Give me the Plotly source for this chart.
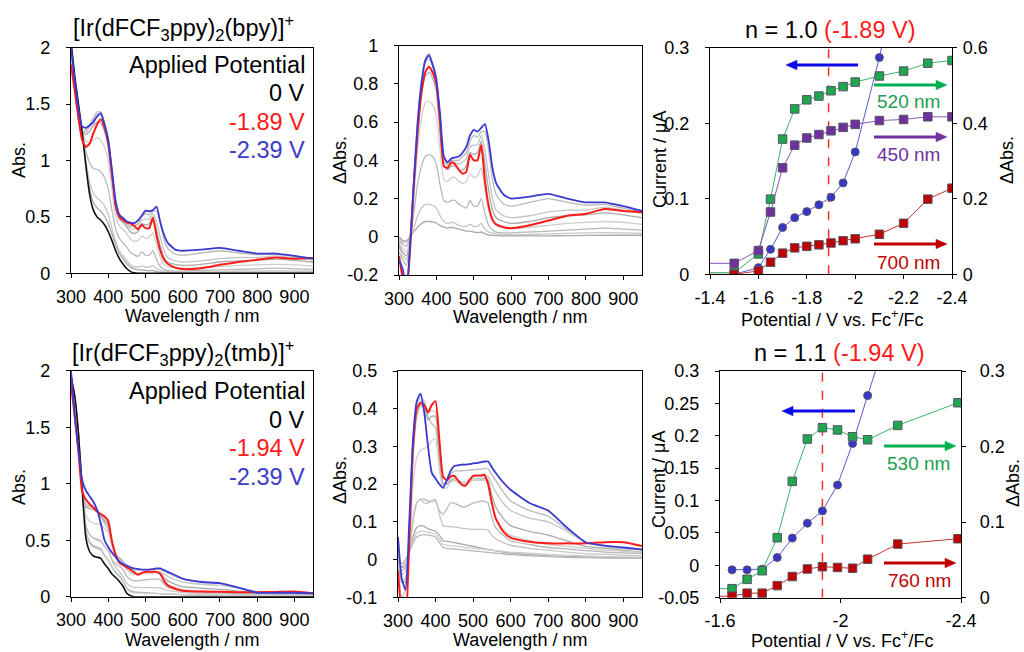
import plotly.graph_objects as go

# ---------------- DATA ----------------
WL = [300, 310, 320, 330, 340, 350, 360, 370, 380, 390, 400, 410, 420, 430, 440, 450, 460, 470,
      480, 490, 500, 510, 520, 530, 540, 550, 560, 580, 600, 650, 700, 750, 800, 850, 900, 950]
WL_TICKS = [300, 400, 500, 600, 700, 800, 900]

# [Ir(dFCF3ppy)2(bpy)]+ absorbance
BPY_ABS_0V = [2.05, 1.75, 1.5, 1.25, 0.95, 0.7, 0.56, 0.5, 0.47, 0.43, 0.37, 0.29, 0.2, 0.13, 0.08, 0.04, 0.015, 0.004,
              0, 0, 0, 0, 0, 0, 0, 0, 0, 0, 0, 0, 0, 0, 0, 0, 0, 0]
BPY_ABS_189 = [1.85, 1.62, 1.38, 1.18, 1.12, 1.15, 1.24, 1.32, 1.365, 1.29, 1.15, 0.88, 0.6, 0.5, 0.47, 0.45, 0.44, 0.42,
               0.39, 0.43, 0.4, 0.4, 0.49, 0.33, 0.2, 0.12, 0.085, 0.05, 0.038, 0.045, 0.075, 0.1, 0.12, 0.14, 0.13, 0.135]
BPY_ABS_239 = [2.0, 1.72, 1.46, 1.3, 1.29, 1.31, 1.34, 1.39, 1.42, 1.32, 1.18, 0.92, 0.64, 0.52, 0.49, 0.46, 0.45, 0.445,
               0.47, 0.51, 0.555, 0.55, 0.56, 0.59, 0.45, 0.34, 0.27, 0.21, 0.2, 0.21, 0.225, 0.2, 0.175, 0.175, 0.155, 0.13]
BPY_ABS_STEPS = [
    [1.97, 1.63, 1.35, 1.25, 1.27, 1.32, 1.38, 1.43, 1.43, 1.34, 1.21, 0.89, 0.61, 0.51, 0.48, 0.44, 0.415, 0.424,
     0.44, 0.5, 0.53, 0.52, 0.55, 0.55, 0.45, 0.3, 0.22, 0.17, 0.16, 0.18, 0.2, 0.18, 0.165, 0.17, 0.15, 0.13],
    [2.0, 1.65, 1.38, 1.25, 1.25, 1.3, 1.36, 1.41, 1.4, 1.32, 1.19, 0.87, 0.6, 0.5, 0.47, 0.43, 0.395, 0.394,
     0.41, 0.47, 0.48, 0.48, 0.53, 0.45, 0.32, 0.2, 0.14, 0.11, 0.1, 0.11, 0.13, 0.14, 0.14, 0.155, 0.14, 0.12],
    [2.01, 1.67, 1.4, 1.25, 1.23, 1.26, 1.31, 1.34, 1.33, 1.26, 1.13, 0.83, 0.57, 0.48, 0.45, 0.41, 0.365, 0.354,
     0.37, 0.44, 0.43, 0.44, 0.5, 0.38, 0.24, 0.14, 0.1, 0.08, 0.07, 0.08, 0.1, 0.11, 0.115, 0.125, 0.115, 0.1],
    [2.02, 1.69, 1.42, 1.25, 1.17, 1.16, 1.18, 1.2, 1.18, 1.12, 1.0, 0.74, 0.5, 0.42, 0.39, 0.35, 0.305, 0.284,
     0.29, 0.33, 0.31, 0.32, 0.36, 0.25, 0.14, 0.08, 0.06, 0.05, 0.045, 0.05, 0.06, 0.07, 0.075, 0.08, 0.075, 0.065],
    [2.03, 1.71, 1.45, 1.25, 1.08, 0.98, 0.93, 0.92, 0.9, 0.85, 0.75, 0.56, 0.39, 0.31, 0.27, 0.23, 0.185, 0.164,
     0.15, 0.19, 0.16, 0.16, 0.2, 0.12, 0.06, 0.035, 0.025, 0.02, 0.02, 0.025, 0.03, 0.035, 0.04, 0.045, 0.04, 0.035],
    [2.04, 1.72, 1.47, 1.25, 1.0, 0.81, 0.71, 0.67, 0.64, 0.595, 0.52, 0.4, 0.28, 0.2, 0.155, 0.11, 0.075, 0.059,
     0.055, 0.065, 0.055, 0.055, 0.07, 0.04, 0.025, 0.02, 0.015, 0.012, 0.01, 0.012, 0.015, 0.018, 0.02, 0.022, 0.02, 0.018],
    [2.05, 1.73, 1.48, 1.25, 0.98, 0.75, 0.63, 0.58, 0.55, 0.508, 0.442, 0.35, 0.25, 0.175, 0.13, 0.085, 0.055, 0.039,
     0.03, 0.03, 0.025, 0.022, 0.025, 0.015, 0.01, 0.008, 0.006, 0.005, 0.005, 0.005, 0.005, 0.006, 0.007, 0.008, 0.008, 0.008],
]

# [Ir(dFCF3ppy)2(bpy)]+ difference spectra
BPY_D_189 = [-0.1, -0.22, -0.3, -0.05, 0.28, 0.55, 0.75, 0.86, 0.89, 0.86, 0.8, 0.6, 0.37, 0.36, 0.39, 0.38, 0.35, 0.33,
             0.34, 0.43, 0.4, 0.4, 0.48, 0.29, 0.16, 0.09, 0.065, 0.05, 0.045, 0.06, 0.085, 0.11, 0.12, 0.145, 0.135, 0.13]
BPY_D_239 = [-0.12, -0.17, -0.28, -0.04, 0.3, 0.6, 0.8, 0.92, 0.95, 0.9, 0.82, 0.64, 0.42, 0.39, 0.41, 0.415, 0.42, 0.44,
             0.47, 0.53, 0.56, 0.55, 0.57, 0.59, 0.5, 0.36, 0.28, 0.22, 0.2, 0.21, 0.225, 0.2, 0.18, 0.18, 0.16, 0.135]
BPY_D_STEPS = [
    [-0.08, -0.12, -0.15, 0.0, 0.32, 0.62, 0.82, 0.93, 0.96, 0.91, 0.84, 0.6, 0.41, 0.38, 0.4, 0.4, 0.4, 0.42,
     0.44, 0.5, 0.53, 0.52, 0.55, 0.55, 0.45, 0.3, 0.22, 0.17, 0.16, 0.18, 0.2, 0.18, 0.165, 0.17, 0.15, 0.13],
    [-0.05, -0.1, -0.12, 0.0, 0.3, 0.6, 0.8, 0.91, 0.93, 0.89, 0.82, 0.58, 0.4, 0.37, 0.39, 0.39, 0.38, 0.39,
     0.41, 0.47, 0.48, 0.48, 0.53, 0.45, 0.32, 0.2, 0.14, 0.11, 0.1, 0.11, 0.13, 0.14, 0.14, 0.155, 0.14, 0.12],
    [-0.04, -0.08, -0.1, 0.0, 0.28, 0.56, 0.75, 0.84, 0.86, 0.83, 0.76, 0.54, 0.37, 0.35, 0.37, 0.37, 0.35, 0.35,
     0.37, 0.44, 0.43, 0.44, 0.5, 0.38, 0.24, 0.14, 0.1, 0.08, 0.07, 0.08, 0.1, 0.11, 0.115, 0.125, 0.115, 0.1],
    [-0.03, -0.06, -0.08, 0.0, 0.22, 0.46, 0.62, 0.7, 0.71, 0.69, 0.63, 0.45, 0.3, 0.29, 0.31, 0.31, 0.29, 0.28,
     0.29, 0.33, 0.31, 0.32, 0.36, 0.25, 0.14, 0.08, 0.06, 0.05, 0.045, 0.05, 0.06, 0.07, 0.075, 0.08, 0.075, 0.065],
    [-0.02, -0.04, -0.05, 0.0, 0.13, 0.28, 0.37, 0.42, 0.43, 0.42, 0.38, 0.27, 0.19, 0.18, 0.19, 0.19, 0.17, 0.16,
     0.15, 0.19, 0.16, 0.16, 0.2, 0.12, 0.06, 0.035, 0.025, 0.02, 0.02, 0.025, 0.03, 0.035, 0.04, 0.045, 0.04, 0.035],
    [-0.01, -0.03, -0.03, 0.0, 0.05, 0.11, 0.15, 0.17, 0.17, 0.165, 0.15, 0.11, 0.08, 0.07, 0.075, 0.07, 0.06, 0.055,
     0.055, 0.065, 0.055, 0.055, 0.07, 0.04, 0.025, 0.02, 0.015, 0.012, 0.01, 0.012, 0.015, 0.018, 0.02, 0.022, 0.02, 0.018],
    [0.0, -0.02, -0.02, 0.0, 0.03, 0.05, 0.07, 0.08, 0.08, 0.078, 0.072, 0.06, 0.05, 0.045, 0.05, 0.045, 0.04, 0.035,
     0.03, 0.03, 0.025, 0.022, 0.025, 0.015, 0.01, 0.008, 0.006, 0.005, 0.005, 0.005, 0.005, 0.006, 0.007, 0.008, 0.008, 0.008],
]

# [Ir(dFCF3ppy)2(tmb)]+ absorbance
TMB_ABS_0V = [1.95, 1.78, 1.45, 0.95, 0.52, 0.4, 0.36, 0.35, 0.34, 0.29, 0.25, 0.2, 0.17, 0.135, 0.09, 0.03, 0.008,
              0, 0, 0, 0, 0, 0, 0, 0, 0, 0, 0, 0, 0, 0, 0, 0, 0, 0, 0]
TMB_ABS_194 = [1.88, 1.6, 1.28, 0.93, 0.86, 0.82, 0.79, 0.755, 0.73, 0.71, 0.67, 0.49, 0.37, 0.3, 0.28, 0.26, 0.24, 0.215,
               0.195, 0.21, 0.22, 0.22, 0.22, 0.22, 0.2, 0.14, 0.1, 0.07, 0.053, 0.045, 0.044, 0.04, 0.04, 0.042, 0.045, 0.03]
TMB_ABS_239 = [2.0, 1.6, 1.3, 1.03, 0.94, 0.89, 0.84, 0.77, 0.65, 0.5, 0.44, 0.39, 0.35, 0.31, 0.29, 0.275, 0.26, 0.25,
               0.245, 0.24, 0.24, 0.24, 0.245, 0.25, 0.25, 0.235, 0.22, 0.19, 0.16, 0.13, 0.12, 0.08, 0.035, 0.035, 0.035, 0.03]
TMB_ABS_STEPS = [
    [1.98, 1.72, 1.39, 1.0, 0.8, 0.8, 0.78, 0.76, 0.72, 0.65, 0.6, 0.47, 0.37, 0.345, 0.315, 0.265, 0.243, 0.235,
     0.236, 0.237, 0.238, 0.239, 0.24, 0.242, 0.24, 0.225, 0.21, 0.18, 0.155, 0.13, 0.115, 0.08, 0.045, 0.036, 0.03, 0.026],
    [1.95, 1.68, 1.37, 0.98, 0.82, 0.81, 0.79, 0.77, 0.73, 0.685, 0.64, 0.49, 0.37, 0.335, 0.3, 0.245, 0.218, 0.205,
     0.205, 0.21, 0.215, 0.215, 0.218, 0.22, 0.22, 0.2, 0.18, 0.15, 0.13, 0.11, 0.1, 0.075, 0.045, 0.035, 0.03, 0.025],
    [1.97, 1.72, 1.4, 0.98, 0.79, 0.78, 0.77, 0.75, 0.71, 0.67, 0.63, 0.48, 0.37, 0.335, 0.3, 0.24, 0.213, 0.2,
     0.2, 0.205, 0.21, 0.21, 0.212, 0.215, 0.21, 0.17, 0.14, 0.11, 0.09, 0.075, 0.065, 0.05, 0.035, 0.03, 0.025, 0.02],
    [1.95, 1.74, 1.42, 0.98, 0.72, 0.67, 0.65, 0.645, 0.64, 0.605, 0.57, 0.44, 0.36, 0.325, 0.295, 0.24, 0.213, 0.2,
     0.2, 0.205, 0.21, 0.21, 0.21, 0.21, 0.2, 0.15, 0.11, 0.08, 0.065, 0.05, 0.04, 0.035, 0.03, 0.025, 0.022, 0.02],
    [1.95, 1.75, 1.43, 0.97, 0.63, 0.55, 0.52, 0.51, 0.495, 0.445, 0.405, 0.33, 0.29, 0.27, 0.24, 0.18, 0.153, 0.14,
     0.14, 0.145, 0.15, 0.152, 0.155, 0.155, 0.15, 0.11, 0.085, 0.065, 0.05, 0.04, 0.032, 0.028, 0.024, 0.02, 0.018, 0.016],
    [1.95, 1.76, 1.43, 0.97, 0.62, 0.55, 0.52, 0.5, 0.49, 0.445, 0.41, 0.32, 0.26, 0.223, 0.177, 0.116, 0.093, 0.083,
     0.082, 0.081, 0.08, 0.08, 0.08, 0.08, 0.078, 0.065, 0.055, 0.045, 0.038, 0.03, 0.025, 0.02, 0.016, 0.014, 0.012, 0.01],
    [1.95, 1.76, 1.44, 0.97, 0.58, 0.485, 0.45, 0.438, 0.422, 0.368, 0.325, 0.265, 0.22, 0.183, 0.137, 0.075, 0.051, 0.041,
     0.039, 0.037, 0.035, 0.033, 0.031, 0.029, 0.027, 0.025, 0.023, 0.02, 0.017, 0.013, 0.01, 0.008, 0.007, 0.006, 0.005, 0.005],
    [1.95, 1.77, 1.44, 0.97, 0.57, 0.47, 0.435, 0.425, 0.412, 0.36, 0.318, 0.255, 0.21, 0.173, 0.127, 0.066, 0.043, 0.034,
     0.032, 0.031, 0.03, 0.029, 0.028, 0.027, 0.026, 0.025, 0.024, 0.022, 0.02, 0.017, 0.014, 0.012, 0.01, 0.008, 0.007, 0.006],
]

# [Ir(dFCF3ppy)2(tmb)]+ difference spectra
TMB_D_194 = [-0.03, -0.14, -0.16, 0.05, 0.3, 0.4, 0.415, 0.41, 0.39, 0.41, 0.42, 0.32, 0.22, 0.21, 0.22, 0.222, 0.21, 0.198,
             0.196, 0.21, 0.222, 0.223, 0.223, 0.225, 0.2, 0.15, 0.11, 0.075, 0.058, 0.047, 0.043, 0.043, 0.043, 0.046, 0.046, 0.036]
TMB_D_239 = [0.06, -0.05, -0.08, 0.1, 0.32, 0.42, 0.44, 0.39, 0.3, 0.23, 0.215, 0.2, 0.19, 0.21, 0.235, 0.248, 0.25, 0.252,
             0.252, 0.253, 0.255, 0.256, 0.258, 0.26, 0.26, 0.245, 0.23, 0.205, 0.185, 0.15, 0.13, 0.085, 0.046, 0.037, 0.032, 0.027]
TMB_D_STEPS = [
    [0.03, -0.06, -0.06, 0.05, 0.28, 0.4, 0.42, 0.41, 0.38, 0.36, 0.35, 0.27, 0.2, 0.21, 0.225, 0.235, 0.235, 0.235,
     0.236, 0.237, 0.238, 0.239, 0.24, 0.242, 0.24, 0.225, 0.21, 0.18, 0.155, 0.13, 0.115, 0.08, 0.045, 0.036, 0.03, 0.026],
    [0.0, -0.1, -0.08, 0.03, 0.3, 0.41, 0.43, 0.42, 0.39, 0.395, 0.39, 0.29, 0.2, 0.2, 0.21, 0.215, 0.21, 0.205,
     0.205, 0.21, 0.215, 0.215, 0.218, 0.22, 0.22, 0.2, 0.18, 0.15, 0.13, 0.11, 0.1, 0.075, 0.045, 0.035, 0.03, 0.025],
    [0.02, -0.06, -0.05, 0.03, 0.27, 0.38, 0.41, 0.4, 0.37, 0.38, 0.38, 0.28, 0.2, 0.2, 0.21, 0.21, 0.205, 0.2,
     0.2, 0.205, 0.21, 0.21, 0.212, 0.215, 0.21, 0.17, 0.14, 0.11, 0.09, 0.075, 0.065, 0.05, 0.035, 0.03, 0.025, 0.02],
    [0.0, -0.04, -0.03, 0.03, 0.2, 0.27, 0.29, 0.295, 0.3, 0.315, 0.32, 0.24, 0.19, 0.19, 0.205, 0.21, 0.205, 0.2,
     0.2, 0.205, 0.21, 0.21, 0.21, 0.21, 0.2, 0.15, 0.11, 0.08, 0.065, 0.05, 0.04, 0.035, 0.03, 0.025, 0.022, 0.02],
    [0.0, -0.03, -0.02, 0.02, 0.11, 0.15, 0.16, 0.16, 0.155, 0.155, 0.155, 0.13, 0.12, 0.135, 0.15, 0.15, 0.145, 0.14,
     0.14, 0.145, 0.15, 0.152, 0.155, 0.155, 0.15, 0.11, 0.085, 0.065, 0.05, 0.04, 0.032, 0.028, 0.024, 0.02, 0.018, 0.016],
    [0.0, -0.02, -0.02, 0.02, 0.1, 0.15, 0.16, 0.15, 0.15, 0.155, 0.16, 0.12, 0.09, 0.088, 0.087, 0.086, 0.085, 0.083,
     0.082, 0.081, 0.08, 0.08, 0.08, 0.08, 0.078, 0.065, 0.055, 0.045, 0.038, 0.03, 0.025, 0.02, 0.016, 0.014, 0.012, 0.01],
    [0.0, -0.02, -0.01, 0.02, 0.06, 0.085, 0.09, 0.088, 0.082, 0.078, 0.075, 0.065, 0.05, 0.048, 0.047, 0.045, 0.043, 0.041,
     0.039, 0.037, 0.035, 0.033, 0.031, 0.029, 0.027, 0.025, 0.023, 0.02, 0.017, 0.013, 0.01, 0.008, 0.007, 0.006, 0.005, 0.005],
    [0.0, -0.01, -0.01, 0.02, 0.05, 0.07, 0.075, 0.075, 0.072, 0.07, 0.068, 0.055, 0.04, 0.038, 0.037, 0.036, 0.035, 0.034,
     0.032, 0.031, 0.03, 0.029, 0.028, 0.027, 0.026, 0.025, 0.024, 0.022, 0.02, 0.017, 0.014, 0.012, 0.01, 0.008, 0.007, 0.006],
    [0.0, -0.01, 0.0, 0.02, 0.045, 0.06, 0.065, 0.066, 0.065, 0.063, 0.06, 0.045, 0.032, 0.03, 0.029, 0.028, 0.027, 0.026,
     0.025, 0.024, 0.023, 0.022, 0.021, 0.02, 0.019, 0.018, 0.017, 0.015, 0.013, 0.01, 0.008, 0.006, 0.005, 0.004, 0.004, 0.003],
]

# Spectroelectrochemistry titration (bpy)
POT_BPY = [-1.3, -1.5, -1.6, -1.65, -1.7, -1.75, -1.8, -1.85, -1.9, -1.95, -2.0, -2.1, -2.2, -2.3, -2.4]
CUR_BPY = [None, 0.0, 0.0088, 0.033, 0.062, 0.075, 0.083, 0.092, 0.102, 0.121, 0.162, 0.287, 0.44, 0.62, 0.8]
BPY_520 = [0.0044, 0.0044, 0.054, 0.199, 0.358, 0.438, 0.462, 0.472, 0.486, 0.497, 0.509, 0.525, 0.538, 0.559, 0.566]
BPY_450 = [0.029, 0.029, 0.063, 0.165, 0.282, 0.342, 0.361, 0.37, 0.38, 0.389, 0.397, 0.407, 0.41, 0.417, 0.417]
BPY_700 = [0.0, 0.0, 0.009, 0.032, 0.056, 0.07, 0.074, 0.078, 0.083, 0.089, 0.094, 0.106, 0.135, 0.199, 0.228]
BPY_N_POT = -1.89

# Spectroelectrochemistry titration (tmb)
POT_TMB = [-1.54, -1.64, -1.69, -1.74, -1.79, -1.84, -1.89, -1.94, -1.99, -2.04, -2.09, -2.19, -2.39]
CUR_TMB = [None, -0.007, -0.007, -0.006, 0.012, 0.042, 0.065, 0.084, 0.124, 0.188, 0.262, 0.42, 0.7]
TMB_530 = [0.0119, 0.0119, 0.0243, 0.0357, 0.0794, 0.154, 0.21, 0.225, 0.222, 0.213, 0.209, 0.228, 0.258]
TMB_760 = [0.002, 0.002, 0.006, 0.006, 0.016, 0.028, 0.038, 0.041, 0.04, 0.039, 0.051, 0.071, 0.078]
TMB_N_POT = -1.94

for arr in ([BPY_ABS_0V, BPY_ABS_189, BPY_ABS_239, BPY_D_189, BPY_D_239, TMB_ABS_0V, TMB_ABS_194, TMB_ABS_239,
             TMB_D_194, TMB_D_239] + BPY_ABS_STEPS + BPY_D_STEPS + TMB_ABS_STEPS + TMB_D_STEPS):
    assert len(arr) == len(WL), len(arr)

# ---------------- FIGURE ----------------
W, H = 1024, 652
FONT = "Liberation Sans, Arial, sans-serif"
RED = "#ff1a1a"
BLUE = "#3a3ad2"
GRAYS = ["#b8b8b8", "#c6c6c6", "#aaaaaa", "#cfcfcf"]
TICK_SIZE = 18
TITLE_SIZE = 18
BIG_SIZE = 23.5
NM_SIZE = 19


def px(x):
    return x / W


def py(y):
    return 1 - y / H


fig = go.Figure()


def line(x, y, xa, ya, color, width):
    fig.add_trace(go.Scatter(x=x, y=y, xaxis=xa, yaxis=ya, mode="lines",
                             line=dict(color=color, width=width, shape="spline", smoothing=0.5),
                             hoverinfo="skip", showlegend=False))


def spectra_panel(xa, ya, steps, base, red, blue):
    for i, s in enumerate(steps):
        line(WL, s, xa, ya, GRAYS[i % len(GRAYS)], 1.3)
    if base is not None:
        line(WL, base, xa, ya, "#111111", 1.6)
    line(WL, red, xa, ya, RED, 2.0)
    line(WL, blue, xa, ya, BLUE, 1.8)


spectra_panel("x", "y", BPY_ABS_STEPS, BPY_ABS_0V, BPY_ABS_189, BPY_ABS_239)
spectra_panel("x2", "y2", BPY_D_STEPS, None, BPY_D_189, BPY_D_239)
spectra_panel("x4", "y4", TMB_ABS_STEPS, TMB_ABS_0V, TMB_ABS_194, TMB_ABS_239)
spectra_panel("x5", "y5", TMB_D_STEPS, None, TMB_D_194, TMB_D_239)


def pts(x, y, xa, ya, color, symbol, lcolor):
    fig.add_trace(go.Scatter(x=x, y=y, xaxis=xa, yaxis=ya, mode="lines+markers",
                             line=dict(color=lcolor, width=1),
                             marker=dict(symbol=symbol, size=8.5 if symbol == "square" else 8,
                                         color=color, line=dict(color="#555566", width=1)),
                             hoverinfo="skip", showlegend=False, connectgaps=False))


GREEN = "#1fa64f"
PURPLE = "#7030a0"
DRED = "#c00000"
CBLUE = "#3636c8"

pts(POT_BPY, CUR_BPY, "x3", "y3", CBLUE, "circle", "#5a5ad8")
pts(POT_BPY, BPY_520, "x3", "y7", GREEN, "square", "#3cb46a")
pts(POT_BPY, BPY_450, "x3", "y7", PURPLE, "square", "#8a55b8")
pts(POT_BPY, BPY_700, "x3", "y7", DRED, "square", "#c83030")

pts(POT_TMB, CUR_TMB, "x6", "y6", CBLUE, "circle", "#5a5ad8")
pts(POT_TMB, TMB_530, "x6", "y8", GREEN, "square", "#3cb46a")
pts(POT_TMB, TMB_760, "x6", "y8", DRED, "square", "#c83030")

tickfont = dict(family=FONT, size=TICK_SIZE, color="black")
common = dict(showline=True, linecolor="black", linewidth=1.3, ticks="outside", ticklen=4,
              tickcolor="black", tickwidth=1, showgrid=False, zeroline=False, tickfont=tickfont,
              fixedrange=True, automargin=False)


def ticks(vals):
    return dict(tickvals=vals, ticktext=["%g" % v for v in vals])


XSO = 3   # x tick label standoff
YSO = 12  # left y tick label standoff

wl_axis = dict(range=[300, 950], mirror=True, ticklabelstandoff=XSO, **ticks(WL_TICKS), **common)

layout = dict(
    width=W, height=H, margin=dict(l=0, r=0, t=0, b=0, pad=0, autoexpand=False), autosize=False,
    paper_bgcolor="white", plot_bgcolor="rgba(0,0,0,0)", showlegend=False,
    font=dict(family=FONT, color="black"),
    xaxis=dict(domain=[px(71), px(313)], anchor="y", **wl_axis),
    yaxis=dict(domain=[py(273.3), py(47.7)], anchor="x", range=[0, 2], mirror=True, ticklabelstandoff=YSO,
               **ticks([0, 0.5, 1, 1.5, 2]), **common),
    xaxis2=dict(domain=[px(399), px(642)], anchor="y2", **wl_axis),
    yaxis2=dict(domain=[py(275), py(45.7)], anchor="x2", range=[-0.2, 1], mirror=True, ticklabelstandoff=YSO,
                **ticks([-0.2, 0, 0.2, 0.4, 0.6, 0.8, 1]), **common),
    xaxis3=dict(domain=[px(710), px(952)], anchor="y3", range=[-1.4, -2.4], mirror=True, ticklabelstandoff=XSO,
                **ticks([-1.4, -1.6, -1.8, -2, -2.2, -2.4]), **common),
    yaxis3=dict(domain=[py(274.3), py(47.7)], anchor="x3", range=[0, 0.3], mirror=False, ticklabelstandoff=YSO,
                **ticks([0, 0.1, 0.2, 0.3]), **common),
    yaxis7=dict(overlaying="y3", side="right", anchor="x3", range=[0, 0.6], mirror=False, ticklabelstandoff=2,
                **ticks([0, 0.2, 0.4, 0.6]), **common),
    xaxis4=dict(domain=[px(71), px(313)], anchor="y4", **wl_axis),
    yaxis4=dict(domain=[py(596.7), py(370.7)], anchor="x4", range=[0, 2], mirror=True, ticklabelstandoff=YSO,
                **ticks([0, 0.5, 1, 1.5, 2]), **common),
    xaxis5=dict(domain=[px(398), px(642)], anchor="y5", **wl_axis),
    yaxis5=dict(domain=[py(597.3), py(371)], anchor="x5", range=[-0.1, 0.5], mirror=True, ticklabelstandoff=YSO,
                **ticks([-0.1, 0, 0.1, 0.2, 0.3, 0.4, 0.5]), **common),
    xaxis6=dict(domain=[px(720), px(961)], anchor="y6", range=[-1.6, -2.4], mirror=True, ticklabelstandoff=XSO,
                **ticks([-1.6, -2, -2.4]), **common),
    yaxis6=dict(domain=[py(597.7), py(371)], anchor="x6", range=[-0.05, 0.3], mirror=False, ticklabelstandoff=YSO,
                **ticks([-0.05, 0, 0.05, 0.1, 0.15, 0.2, 0.25, 0.3]), **common),
    yaxis8=dict(overlaying="y6", side="right", anchor="x6", range=[0, 0.3], mirror=False, ticklabelstandoff=10,
                **ticks([0, 0.1, 0.2, 0.3]), **common),
)
fig.update_layout(**layout)

# dashed n-potential lines
fig.add_shape(type="line", x0=BPY_N_POT, x1=BPY_N_POT, xref="x3", y0=0, y1=1, yref="y3 domain",
              line=dict(color="#ff2a2a", width=1.5, dash="dash"), layer="below")
fig.add_shape(type="line", x0=TMB_N_POT, x1=TMB_N_POT, xref="x6", y0=0, y1=1, yref="y6 domain",
              line=dict(color="#ff2a2a", width=1.5, dash="dash"), layer="below")


def text(t, x, y, size, color="black", xanchor="center", angle=0):
    fig.add_annotation(text=t, x=px(x), y=py(y), xref="paper", yref="paper", showarrow=False,
                       xanchor=xanchor, yanchor="middle", textangle=angle,
                       font=dict(family=FONT, size=size, color=color))


def arrow(tx, ty, hx, hy, color):
    d = 1 if hx > tx else -1
    bx = hx - d * 11
    fig.add_shape(type="line", x0=px(tx), y0=py(ty), x1=px(bx + d * 1), y1=py(hy), xref="paper", yref="paper",
                  line=dict(color=color, width=3.2))
    fig.add_shape(type="path", xref="paper", yref="paper",
                  path="M %f,%f L %f,%f L %f,%f Z" % (px(hx), py(hy), px(bx), py(hy - 4.8), px(bx), py(hy + 4.8)),
                  fillcolor=color, line=dict(color=color, width=0.5))


TXT_BLUE = "#3c3cc8"
# titles
text("[Ir(dFCF<sub>3</sub>ppy)<sub>2</sub>(bpy)]<sup>+</sup>", 183, 28, BIG_SIZE)
text("[Ir(dFCF<sub>3</sub>ppy)<sub>2</sub>(tmb)]<sup>+</sup>", 183, 352, BIG_SIZE)
text('n = 1.0 <span style="color:#ff1a1a">(-1.89 V)</span>', 830, 30, BIG_SIZE)
text('n = 1.1 <span style="color:#ff1a1a">(-1.94 V)</span>', 839, 353, BIG_SIZE)

# applied potential legends
for (t, y, c) in [("Applied Potential", 65, "black"), ("0 V", 93, "black"),
                  ("-1.89 V", 122, RED), ("-2.39 V", 150, TXT_BLUE)]:
    text(t, y=y, x=307, size=BIG_SIZE, color=c, xanchor="right")
for (t, y, c) in [("Applied Potential", 391, "black"), ("0 V", 420, "black"),
                  ("-1.94 V", 448, RED), ("-2.39 V", 477, TXT_BLUE)]:
    text(t, y=y, x=307, size=BIG_SIZE, color=c, xanchor="right")

# axis titles
text("Wavelength / nm", 192, 316, TITLE_SIZE)
text("Wavelength / nm", 520, 317, TITLE_SIZE)
text("Potential / V vs. Fc<sup>+</sup>/Fc", 832, 319, TITLE_SIZE)
text("Wavelength / nm", 192, 640, TITLE_SIZE)
text("Wavelength / nm", 520, 640, TITLE_SIZE)
text("Potential / V vs. Fc<sup>+</sup>/Fc", 842, 639, TITLE_SIZE)
text("Abs.", 19, 160, TITLE_SIZE, angle=-90)
text("ΔAbs.", 340, 160, TITLE_SIZE, angle=-90)
text("Current / μA", 660, 160, TITLE_SIZE, angle=-90)
text("ΔAbs.", 1007, 160, TITLE_SIZE, angle=-90)
text("Abs.", 19, 487, TITLE_SIZE, angle=-90)
text("ΔAbs.", 340, 480, TITLE_SIZE, angle=-90)
text("Current / μA", 659, 480, TITLE_SIZE, angle=-90)
text("ΔAbs.", 1013, 483, TITLE_SIZE, angle=-90)

# arrows + wavelength labels
arrow(858, 65, 786, 65, "#0a0ae6")
arrow(874, 85, 947, 85, "#00b050")
arrow(874, 137, 947, 137, PURPLE)
arrow(874, 244, 947, 244, DRED)
text("520 nm", 908, 101, NM_SIZE, color="#20a050")
text("450 nm", 908, 155, NM_SIZE, color=PURPLE)
text("700 nm", 908, 262, NM_SIZE, color=DRED)

arrow(855, 411, 782, 411, "#0a0ae6")
arrow(884, 446, 956, 446, "#00b050")
arrow(884, 563, 956, 563, DRED)
text("530 nm", 918, 463, NM_SIZE, color="#20a050")
text("760 nm", 919, 580, NM_SIZE, color=DRED)

fig.write_html("out.html",
               post_script="document.body.style.margin='0px';document.body.style.padding='0px';"
                           "document.documentElement.style.overflow='hidden';")
